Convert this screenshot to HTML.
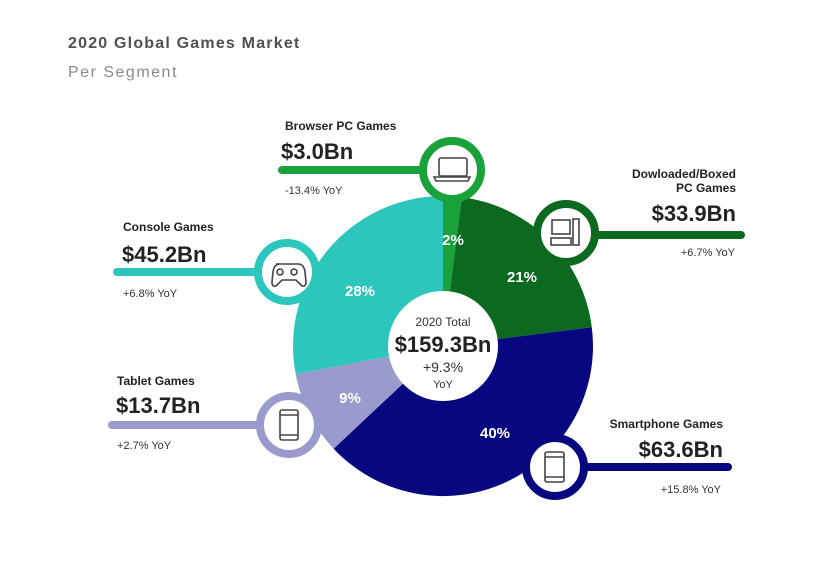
<!DOCTYPE html>
<html><head><meta charset="utf-8"><style>
html,body{margin:0;padding:0;background:#fff;}
body{width:838px;height:559px;overflow:hidden;}
svg text{font-family:"Liberation Sans",sans-serif;}
</style></head><body>
<svg width="838" height="559" viewBox="0 0 838 559" xmlns="http://www.w3.org/2000/svg">
<text x="68" y="48" font-size="16" font-weight="bold" fill="#505050" letter-spacing="1.2">2020 Global Games Market</text>
<text x="68" y="77" font-size="16" fill="#8a8a8a" letter-spacing="1.5">Per Segment</text>

<!-- pie -->
<g>
<path d="M443,346 L443,196 A150,150 0 0 1 461.8,197.2 Z" fill="#1aa23a"/>
<path d="M443,346 L461.8,197.2 A150,150 0 0 1 591.8,327.2 Z" fill="#0b6a1f"/>
<path d="M443,346 L591.8,327.2 A150,150 0 0 1 333.6,448.7 Z" fill="#07077f"/>
<path d="M443,346 L333.6,448.7 A150,150 0 0 1 295.7,374.1 Z" fill="#9a9acc"/>
<path d="M443,346 L295.7,374.1 A150,150 0 0 1 443,196 Z" fill="#2cc6bc"/>
<circle cx="443" cy="346" r="55" fill="#fff"/>
</g>

<!-- lines -->
<g stroke-linecap="round" stroke-width="8">
<line x1="282" y1="170" x2="430" y2="170" stroke="#1aa23a"/>
<line x1="590" y1="235" x2="741" y2="235" stroke="#0b6a1f"/>
<line x1="117" y1="272" x2="262" y2="272" stroke="#2cc6bc"/>
<line x1="112" y1="425" x2="262" y2="425" stroke="#9a9acc"/>
<line x1="580" y1="467" x2="728" y2="467" stroke="#07077f"/>
</g>
<!-- bubbles -->
<g fill="#fff" stroke-width="8">
<circle cx="452" cy="170" r="29" stroke="#1aa23a"/>
<circle cx="566" cy="233" r="29" stroke="#0b6a1f"/>
<circle cx="287" cy="272" r="29" stroke="#2cc6bc"/>
<circle cx="289" cy="425" r="29" stroke="#9a9acc"/>
<circle cx="555" cy="467" r="29" stroke="#07077f"/>
</g>
<!-- icons -->
<g fill="none" stroke="#444" stroke-width="1.6">
<rect x="439" y="158" width="28" height="18" rx="2"/>
<path d="M434,177 h36 l-2,4 h-32 z"/>
<rect x="552" y="220" width="18" height="14"/>
<rect x="573" y="219" width="6" height="26"/>
<rect x="551" y="238" width="20" height="7"/>
<path d="M276,264 h22 q6,0 7,8 l1,10 q0,5 -4,4 l-6,-6 h-14 l-6,6 q-4,1 -4,-4 l1,-10 q1,-8 7,-8 z"/>
<circle cx="280" cy="272" r="3"/><circle cx="294" cy="272" r="3"/>
<rect x="280" y="410" width="18" height="30" rx="2"/>
<line x1="280" y1="415" x2="298" y2="415"/><line x1="280" y1="435" x2="298" y2="435"/>
<rect x="545" y="452" width="19" height="30" rx="2"/>
<line x1="545" y1="457" x2="564" y2="457"/><line x1="545" y1="477" x2="564" y2="477"/>
</g>

<!-- labels -->
<g fill="#222">
<text x="285" y="130" font-size="12" font-weight="bold">Browser PC Games</text>
<text x="281" y="159" font-size="22" font-weight="bold">$3.0Bn</text>
<text x="285" y="194" font-size="11" fill="#333">-13.4% YoY</text>

<text x="123" y="231" font-size="12" font-weight="bold">Console Games</text>
<text x="122" y="262" font-size="22" font-weight="bold">$45.2Bn</text>
<text x="123" y="297" font-size="11" fill="#333">+6.8% YoY</text>

<text x="117" y="385" font-size="12" font-weight="bold">Tablet Games</text>
<text x="116" y="413" font-size="22" font-weight="bold">$13.7Bn</text>
<text x="117" y="449" font-size="11" fill="#333">+2.7% YoY</text>

<g text-anchor="end">
<text x="736" y="178" font-size="12" font-weight="bold">Dowloaded/Boxed</text>
<text x="736" y="192" font-size="12" font-weight="bold">PC Games</text>
<text x="736" y="221" font-size="22" font-weight="bold">$33.9Bn</text>
<text x="735" y="256" font-size="11" fill="#333">+6.7% YoY</text>
<text x="723" y="428" font-size="12" font-weight="bold">Smartphone Games</text>
<text x="723" y="457" font-size="22" font-weight="bold">$63.6Bn</text>
<text x="721" y="493" font-size="11" fill="#333">+15.8% YoY</text>
</g>

<g text-anchor="middle">
<text x="443" y="326" font-size="12" fill="#333">2020 Total</text>
<text x="443" y="352" font-size="22" font-weight="bold">$159.3Bn</text>
<text x="443" y="372" font-size="14" fill="#333">+9.3%</text>
<text x="443" y="388" font-size="11" fill="#333">YoY</text>
</g>
</g>
<g fill="#fff" font-size="15" font-weight="bold" text-anchor="middle">
<text x="453" y="245">2%</text>
<text x="522" y="282">21%</text>
<text x="360" y="296">28%</text>
<text x="350" y="403">9%</text>
<text x="495" y="438">40%</text>
</g>
</svg>
</body></html>
